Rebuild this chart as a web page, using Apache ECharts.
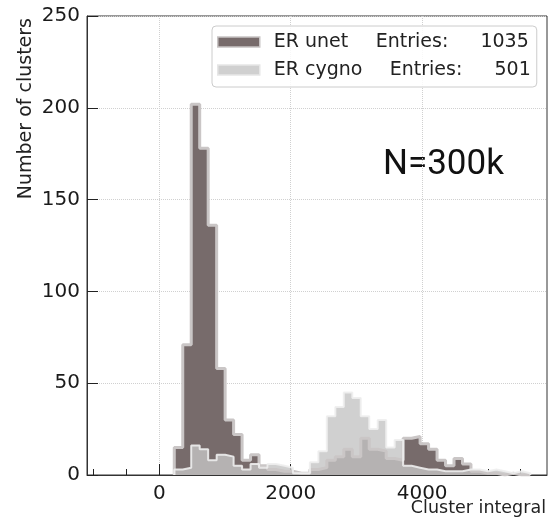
<!DOCTYPE html>
<html><head><meta charset="utf-8">
<script src="https://cdn.jsdelivr.net/npm/echarts@6/dist/echarts.min.js"></script>
<style>html,body{margin:0;padding:0;background:#fff}#c{width:550px;height:526px}</style>
</head><body><div id="c"></div>
<script>
// ---- data ----
const binStart = 228;
const binWidth = 129;
const seriesNames = ['ER unet', 'ER cygno'];
const entries = [1035, 501];
const unetCounts = [15, 71, 202, 178, 136, 58, 30, 22, 8, 11, 5, 3, 2, 2, 1, 1, 3, 4, 8, 10, 14, 10, 20, 14, 13, 9, 8, 20, 21, 17, 14, 8, 5, 9, 6, 2, 1, 1, 0, 1, 0, 0];
const cygnoCounts = [3, 4, 16, 14, 8, 11, 10, 5, 3, 6, 4, 6, 5, 4, 1, 1, 7, 13, 32, 37, 45, 42, 32, 25, 30, 15, 19, 5, 4, 3, 3, 2, 2, 2, 3, 3, 2, 3, 2, 1, 2, 1];
const xMin = -1100, xMax = 5900;
const xTickValues = [0, 2000, 4000];
const xMinorTickValues = [-1000, -500, 500, 1000, 1500, 2500, 3000, 3500, 4500, 5000, 5500];
const yMin = 0, yMax = 250, yStep = 50;
const xTitle = 'Cluster integral';
const yTitle = 'Number of clusters';
const annotation = 'N=300k';

function stepData(counts) {
  const d = [[binStart, 0]];
  counts.forEach((v, i) => d.push([binStart + i * binWidth, v]));
  d.push([binStart + counts.length * binWidth, 0]);
  return d;
}

const font = 'DejaVu Sans';
const chart = echarts.init(document.getElementById('c'), null, {renderer: 'canvas', width: 550, height: 526});
const option = {
  animation: false,
  backgroundColor: '#ffffff',
  grid: {left: 87, right: 3, top: 16, bottom: 51, show: true, borderColor: '#333', borderWidth: 1, backgroundColor: 'transparent'},
  xAxis: [{
    type: 'value', min: xMin, max: xMax,
    axisLine: {show: true, onZero: false, lineStyle: {color: '#333', width: 1}},
    axisTick: {show: true, inside: true, length: 11, customValues: xTickValues, lineStyle: {color: '#222', width: 1}},
    axisLabel: {customValues: xTickValues, formatter: v => String(v), fontFamily: font, fontSize: 20, color: '#1a1a1a', margin: 9},
    splitLine: {show: true, lineStyle: {type: 'dotted', color: '#d0d0d0', width: 1}}
  }, {
    type: 'value', min: xMin, max: xMax, position: 'bottom',
    axisLine: {show: false, onZero: false}, axisLabel: {show: false}, splitLine: {show: false},
    axisTick: {show: true, inside: true, length: 6, customValues: xMinorTickValues, lineStyle: {color: '#222', width: 1}}
  }],
  yAxis: {
    type: 'value', min: yMin, max: yMax, interval: yStep,
    axisLine: {show: true, onZero: false, lineStyle: {color: '#333', width: 1}},
    axisTick: {show: true, inside: true, length: 11, lineStyle: {color: '#222', width: 1}},
    axisLabel: {fontFamily: font, fontSize: 20, color: '#1a1a1a', margin: 7},
    splitLine: {show: true, lineStyle: {type: 'dotted', color: '#d0d0d0', width: 1}}
  },
  legend: {
    orient: 'vertical', left: 212, top: 26, selectedMode: false,
    padding: [5, 6, 6, 5], itemGap: 6, itemWidth: 42, itemHeight: 10,
    backgroundColor: 'rgba(255,255,255,0.85)', borderColor: '#cccccc', borderWidth: 1, borderRadius: 4,
    data: [
      {name: seriesNames[0], icon: 'rect', itemStyle: {color: '#776b6b', borderColor: '#c8c4c4', borderWidth: 1.5}},
      {name: seriesNames[1], icon: 'rect', itemStyle: {color: '#d0d0d0', borderColor: '#e6e6e6', borderWidth: 1.5}}
    ],
    formatter: function (name) {
      const i = seriesNames.indexOf(name);
      return '{s| }{n' + i + '|' + name + '}{e|Entries:}{v' + i + '|' + entries[i] + '}';
    },
    textStyle: {
      fontFamily: font, fontSize: 19, color: '#222', lineHeight: 22,
      rich: {
        s: {width: 9, fontSize: 19, lineHeight: 22},
        n0: {width: 102, fontFamily: font, fontSize: 19, color: '#222', lineHeight: 22},
        n1: {width: 116, fontFamily: font, fontSize: 19, color: '#222', lineHeight: 22},
        e: {width: 73, fontFamily: font, fontSize: 19, color: '#222', lineHeight: 22},
        v0: {width: 80, align: 'right', fontFamily: font, fontSize: 19, color: '#222', lineHeight: 22},
        v1: {width: 68, align: 'right', fontFamily: font, fontSize: 19, color: '#222', lineHeight: 22}
      }
    }
  },
  series: [{
    type: 'line', name: seriesNames[0], data: stepData(unetCounts), step: 'end',
    symbol: 'none', showSymbol: false, clip: true, xAxisIndex: 0,
    itemStyle: {color: '#776b6b'},
    lineStyle: {color: '#cac6c6', width: 3},
    areaStyle: {color: '#776b6b', opacity: 1}
  }, {
    type: 'line', name: seriesNames[1], data: stepData(cygnoCounts), step: 'end',
    symbol: 'none', showSymbol: false, clip: true, xAxisIndex: 0,
    itemStyle: {color: '#d0d0d0'},
    lineStyle: {color: '#eeeeee', width: 2, opacity: 0.9},
    areaStyle: {color: '#c4c4c4', opacity: 0.8}
  }],
  graphic: [
    {type: 'text', x: 383, y: 165, style: {text: annotation, fontFamily: 'Roboto', fontSize: 35, fill: '#111', textAlign: 'left', textVerticalAlign: 'middle'}},
    {type: 'text', x: 546, y: 508, style: {text: xTitle, fontFamily: font, fontSize: 17.5, fill: '#222', textAlign: 'right', textVerticalAlign: 'middle'}},
    {type: 'text', x: 26.4, y: 18, rotation: Math.PI / 2, style: {text: yTitle, fontFamily: font, fontSize: 19, fill: '#222', textAlign: 'right', textVerticalAlign: 'middle'}}
  ]
};
chart.setOption(option);
</script>
</body></html>
